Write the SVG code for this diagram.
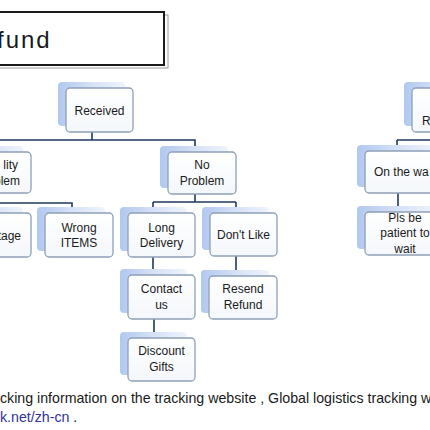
<svg xmlns="http://www.w3.org/2000/svg" width="430" height="430" viewBox="0 0 430 430">
<defs>
<linearGradient id="sh" x1="0" y1="0" x2="1" y2="0">
<stop offset="0" stop-color="#b1c8ef"/>
<stop offset="0.5" stop-color="#d5e1f6"/>
<stop offset="1" stop-color="#eff4fc"/>
</linearGradient>
<linearGradient id="bx" x1="0" y1="0" x2="0" y2="1">
<stop offset="0" stop-color="#ffffff"/>
<stop offset="1" stop-color="#f4f7fb"/>
</linearGradient>
</defs>
<style>
.sh{fill:url(#sh);stroke:none}
.bx{fill:url(#bx);stroke:#8da0b8;stroke-width:1.3}
.t{font-family:"Liberation Sans",Arial,sans-serif;font-size:12px;fill:#1a1a1a;text-anchor:middle}
.ts{text-anchor:start}
.te{text-anchor:end}
.c{fill:none;stroke:#1f3a5f;stroke-width:1.6}
.bt{font-family:"Liberation Sans",Arial,sans-serif;font-size:14.2px;fill:#1a1a1a}
</style>
<rect width="430" height="430" fill="#ffffff"/>
<g id="title">
<rect x="-7" y="15" width="175" height="53" fill="none" stroke="#9a9a9a" stroke-width="1"/>
<rect x="-10" y="12" width="174" height="53" fill="#ffffff" stroke="#1a1a1a" stroke-width="2"/>
<text x="-3" y="48" font-family="Liberation Sans,Arial,sans-serif" font-size="24" letter-spacing="2" fill="#1a1a1a">fund</text>
</g>
<g id="connectors">
<path class="c" d="M92 132V140M0 140H195V146M195 194V202M153 202H236M153 202V207M236 202V207M0 203H72V207M153 257V269M236 256V270M154 319V332M397 140H430M397 140V145M398 193V206"/>
</g>
<g id="received">
<rect class="sh" x="58" y="82" width="67" height="44" rx="4"/>
<rect class="bx" x="66" y="88" width="67" height="44" rx="4"/>
<text class="t" x="99.5" y="115" font-size="11.5">Received</text>
</g>
<g id="not-received">
<rect class="sh" x="404" y="82" width="67" height="44" rx="4"/>
<rect class="bx" x="412" y="88" width="67" height="44" rx="4"/>
<text class="t ts" x="422" y="125">R</text>
</g>
<g id="quality-problem">
<rect class="sh" x="-45" y="146" width="68" height="41" rx="4"/>
<rect class="bx" x="-37" y="152" width="68" height="41" rx="4"/>
<text class="t te" x="18" y="169">lity</text>
<text class="t te" x="20" y="185">blem</text>
</g>
<g id="no-problem">
<rect class="sh" x="160" y="146" width="68" height="42" rx="4"/>
<rect class="bx" x="168" y="152" width="68" height="42" rx="4"/>
<text class="t" x="202" y="169">No</text>
<text class="t" x="202" y="185">Problem</text>
</g>
<g id="on-the-way">
<rect class="sh" x="357" y="145" width="80" height="42" rx="4"/>
<rect class="bx" x="365" y="151" width="80" height="42" rx="4"/>
<text class="t ts" x="374" y="176">On the wa</text>
</g>
<g id="shortage">
<rect class="sh" x="-45" y="207" width="68" height="44" rx="4"/>
<rect class="bx" x="-37" y="213" width="68" height="44" rx="4"/>
<text class="t te" x="21" y="240">tage</text>
</g>
<g id="wrong-items">
<rect class="sh" x="37" y="207" width="68" height="44" rx="4"/>
<rect class="bx" x="45" y="213" width="68" height="44" rx="4"/>
<text class="t" x="79" y="232">Wrong</text>
<text class="t" x="79" y="247">ITEMS</text>
</g>
<g id="long-delivery">
<rect class="sh" x="120" y="207" width="67" height="44" rx="4"/>
<rect class="bx" x="128" y="213" width="67" height="44" rx="4"/>
<text class="t" x="161.5" y="232">Long</text>
<text class="t" x="161.5" y="247">Delivery</text>
</g>
<g id="dont-like">
<rect class="sh" x="202" y="207" width="67" height="43" rx="4"/>
<rect class="bx" x="210" y="213" width="67" height="43" rx="4"/>
<text class="t" x="243.5" y="239">Don't Like</text>
</g>
<g id="pls-be-patient">
<rect class="sh" x="357" y="206" width="80" height="43" rx="4"/>
<rect class="bx" x="365" y="212" width="80" height="43" rx="4"/>
<text class="t" x="405" y="222">Pls be</text>
<text class="t" x="405" y="237">patient to</text>
<text class="t" x="405" y="253">wait</text>
</g>
<g id="contact-us">
<rect class="sh" x="120" y="269" width="67" height="44" rx="4"/>
<rect class="bx" x="128" y="275" width="67" height="44" rx="4"/>
<text class="t" x="161.5" y="293">Contact</text>
<text class="t" x="161.5" y="309">us</text>
</g>
<g id="resend-refund">
<rect class="sh" x="201" y="270" width="68" height="43" rx="4"/>
<rect class="bx" x="209" y="276" width="68" height="43" rx="4"/>
<text class="t" x="243" y="293">Resend</text>
<text class="t" x="243" y="309">Refund</text>
</g>
<g id="discount-gifts">
<rect class="sh" x="120" y="332" width="67" height="43" rx="4"/>
<rect class="bx" x="128" y="338" width="67" height="43" rx="4"/>
<text class="t" x="161.5" y="355">Discount</text>
<text class="t" x="161.5" y="371">Gifts</text>
</g>
<g id="footer">
<text class="bt" x="0" y="403">cking information on the tracking website , Global logistics tracking w</text>
<text class="bt" x="0" y="422"><tspan fill="#333399">k.net/zh-cn</tspan> .</text>
</g>
</svg>
